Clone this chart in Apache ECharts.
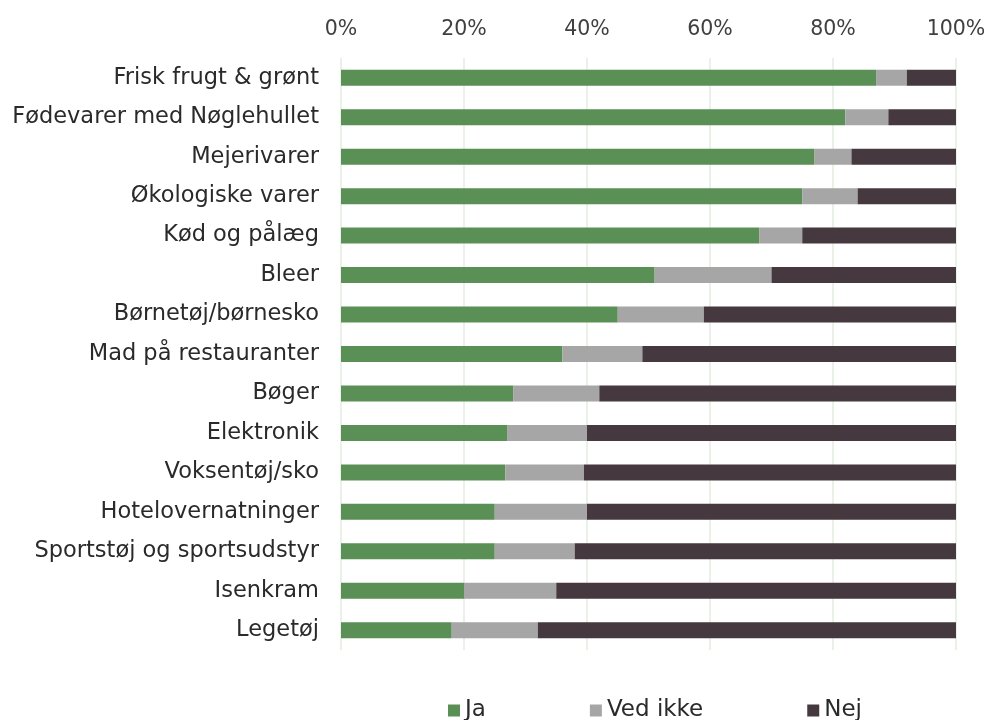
<!DOCTYPE html>
<html><head><meta charset="utf-8">
<script src="https://cdn.jsdelivr.net/npm/echarts@6/dist/echarts.min.js"></script>
<style>html,body{margin:0;padding:0;background:#fff}#c{width:986px;height:720px}</style>
</head><body><div id="c"></div>
<script>
const categories = ["Frisk frugt & grønt","Fødevarer med Nøglehullet","Mejerivarer","Økologiske varer","Kød og pålæg","Bleer","Børnetøj/børnesko","Mad på restauranter","Bøger","Elektronik","Voksentøj/sko","Hotelovernatninger","Sportstøj og sportsudstyr","Isenkram","Legetøj"];
const ja      = [87, 82, 77, 75, 68, 51, 45, 36, 28, 27, 26.7, 25, 25, 20, 18];
const vedIkke = [5, 7, 6, 9, 7, 19, 14, 13, 14, 13, 12.8, 15, 13, 15, 14];
const nej     = [8, 11, 17, 16, 25, 30, 41, 51, 58, 60, 60.5, 60, 62, 65, 68];
const xTicks = [0, 20, 40, 60, 80, 100];

const font = "DejaVu Sans";
const chart = echarts.init(document.getElementById('c'));
const mk = (name, data, color) => ({
  name, type: 'bar', stack: 'a', data, barWidth: 16,
  itemStyle: { color }, emphasis: { disabled: true }
});
chart.setOption({
  animation: false,
  textStyle: { fontFamily: font },
  grid: { left: 341, right: 30, top: 58, bottom: 70, containLabel: false, outerBoundsMode: 'none' },
  xAxis: {
    type: 'value', position: 'top', min: 0, max: 100, interval: 20,
    axisLabel: { formatter: v => xTicks.includes(v) ? v + '%' : '', color: '#404040', fontSize: 20.5, fontFamily: font, margin: 18 },
    axisLine: { show: false }, axisTick: { show: false },
    splitLine: { lineStyle: { color: '#E3EEE1', width: 1.5 } }
  },
  yAxis: {
    type: 'category', data: categories, inverse: true,
    axisLine: { show: false }, axisTick: { show: false },
    axisLabel: { color: '#2a2a2a', fontSize: 22.5, fontFamily: font, margin: 22 }
  },
  legend: {
    top: 694, left: 443, itemWidth: 12, itemHeight: 12, itemGap: 104,
    icon: 'rect',
    textStyle: { color: '#2a2a2a', fontSize: 23, fontFamily: font },
    data: ['Ja', 'Ved ikke', 'Nej']
  },
  series: [
    mk('Ja', ja, '#5A8F55'),
    mk('Ved ikke', vedIkke, '#A6A6A6'),
    mk('Nej', nej, '#45393F')
  ]
});
</script></body></html>
